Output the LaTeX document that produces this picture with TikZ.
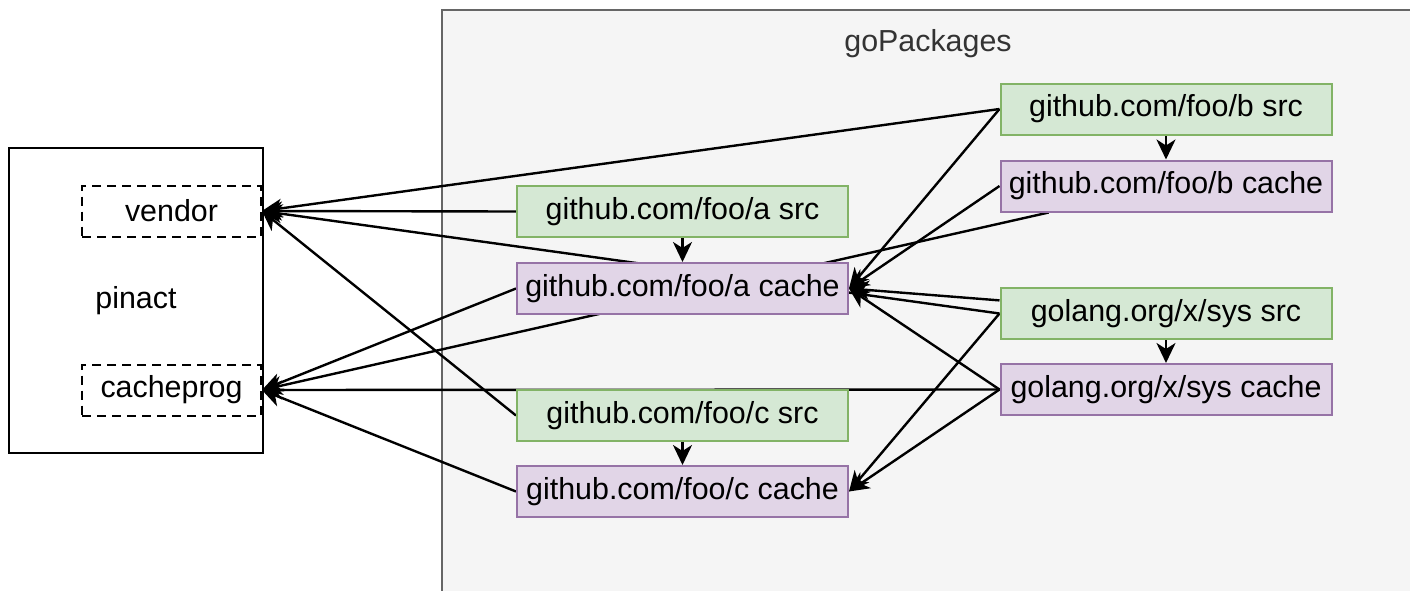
\documentclass[tikz,border=0pt]{standalone}
\usepackage{fontspec}
\setmainfont{Liberation Sans}
\usepackage{tikz}
\usetikzlibrary{arrows.meta, backgrounds}
\definecolor{srcfill}{HTML}{D5E8D4}
\definecolor{srcline}{HTML}{82B366}
\definecolor{cachefill}{HTML}{E1D5E7}
\definecolor{cacheline}{HTML}{9673A6}
\definecolor{pkgfill}{HTML}{F5F5F5}
\definecolor{pkgline}{HTML}{666666}
\definecolor{pkgtext}{HTML}{333333}
\tikzset{
  plainbox/.style={line width=1pt, inner sep=0pt, font=\fontsize{15.2}{18}\selectfont},
  srcnode/.style={plainbox, draw=srcline, fill=srcfill, minimum width=165.5pt, minimum height=25.5pt},
  cachenode/.style={plainbox, draw=cacheline, fill=cachefill, minimum width=165.5pt, minimum height=25.5pt},
  slotnode/.style={plainbox, draw, dash pattern=on 4.5pt off 3pt, minimum width=89.5pt, minimum height=25.5pt},
  feedarrow/.style={line width=1.2pt, -{Stealth[length=10pt, width=9.5pt, inset=3pt]}}
}

\begin{document}
\begin{tikzpicture}[x=0.5pt, y=-0.5pt]
  \useasboundingbox (0,0) rectangle (1410,590);
  % pinact side
  \node[plainbox, draw, minimum width=127pt, minimum height=152.5pt] (pinact) at (136,300.5) {pinact};
  \node[slotnode] (vendor) at (171.5,211) {vendor};
  \node[slotnode] (cacheprog) at (171.5,390) {cacheprog};
  % packages
  \node[srcnode] (asrc) at (682.5,211.5) {github.com/foo/a src};
  \node[cachenode] (acache) at (682.5,288.5) {github.com/foo/a cache};
  \node[srcnode] (csrc) at (682.5,415.5) {github.com/foo/c src};
  \node[cachenode] (ccache) at (682.5,491.5) {github.com/foo/c cache};
  \node[srcnode] (bsrc) at (1166,109) {github.com/foo/b src};
  \node[cachenode] (bcache) at (1166,186) {github.com/foo/b cache};
  \node[srcnode] (syssrc) at (1166,313.5) {golang.org/x/sys src};
  \node[cachenode] (syscache) at (1166,389.5) {golang.org/x/sys cache};

  \begin{scope}[on background layer]
    \clip (0,0) rectangle (1410,590);
    \node[draw=pkgline, fill=pkgfill, line width=1pt, minimum width=489.5pt, minimum height=295.5pt, anchor=north west] (gopkg) at (441,9) {};
    \node[plainbox, text=pkgtext] (gopkglabel) at (928,44) {goPackages};
    % to vendor
    \draw[feedarrow] (bsrc.west) -- (vendor.east);
    \draw[feedarrow] (asrc.west) -- (vendor.east);
    \draw[feedarrow] (syssrc.west) -- (vendor.east);
    \draw[feedarrow] (csrc.west) -- (vendor.east);
    % to cacheprog
    \draw[feedarrow] (acache.west) -- (cacheprog.east);
    \draw[feedarrow] (bcache) -- (cacheprog.east);
    \draw[feedarrow] (syscache.west) -- (cacheprog.east);
    \draw[feedarrow] (ccache.west) -- (cacheprog.east);
    % between packages
    \draw[feedarrow] (bsrc.west) -- (acache.east);
    \draw[feedarrow] (bcache.west) -- (acache.east);
    \draw[feedarrow] (syssrc) -- (acache.east);
    \draw[feedarrow] (syscache.west) -- (acache.east);
    \draw[feedarrow] (syssrc.west) -- (ccache.east);
    \draw[feedarrow] (syscache.west) -- (ccache.east);
    \draw[feedarrow] (asrc) -- (acache);
    \draw[feedarrow] (csrc) -- (ccache);
    \draw[feedarrow] (bsrc) -- (bcache);
    \draw[feedarrow] (syssrc) -- (syscache);
  \end{scope}
\end{tikzpicture}
\end{document}
